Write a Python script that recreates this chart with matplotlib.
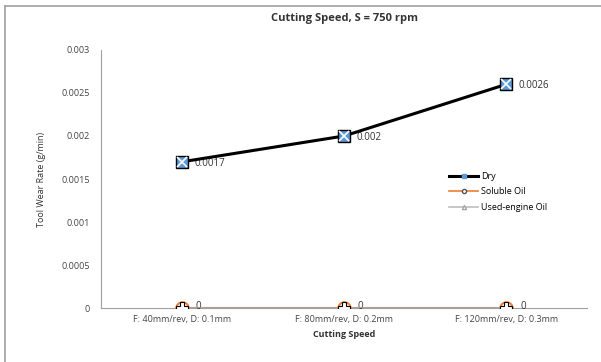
import numpy as np
import matplotlib.pyplot as plt
from matplotlib.lines import Line2D

cats = ['F: 40mm/rev, D: 0.1mm', 'F: 80mm/rev, D: 0.2mm', 'F: 120mm/rev, D: 0.3mm']
dry = [0.0017, 0.002, 0.0026]
soluble = [0, 0, 0]
used = [0, 0, 0]
yticks = [0, 0.0005, 0.001, 0.0015, 0.002, 0.0025, 0.003]
ylabels = ['0', '0.0005', '0.001', '0.0015', '0.002', '0.0025', '0.003']

plt.rcParams['font.family'] = ['Open Sans', 'DejaVu Sans']

fig = plt.figure(figsize=(6.01, 3.62), dpi=100)
ax = fig.add_axes([0.168, 0.149, 0.809, 0.713])
x = np.arange(len(cats))

ax.plot(x, soluble, color='#ED7D31', lw=1.5, marker='o', ms=9, mfc='white', mec='#ED7D31', mew=1.5, zorder=3, label='Soluble Oil')
ax.plot(x, used, color='#A5A5A5', lw=1.2, marker='^', ms=5, mfc='white', mec='#A5A5A5', zorder=4, label='Used-engine Oil')
ax.plot(x, used, ls='none', marker='P', ms=8, mfc='white', mec='black', mew=0.8, zorder=5)
ax.plot(x, dry, color='black', lw=2.2, marker='s', ms=9, mfc='#5B9BD5', mec='black', zorder=6, label='Dry')
ax.plot(x, dry, ls='none', marker='x', ms=7, mec='white', mew=1.2, zorder=7)

for xi, v in zip(x, dry):
    ax.annotate(f'{v:g}', (xi, v), xytext=(9, -1), textcoords='offset points', fontsize=7, va='center', color='#333333')
for xi, v in zip(x, soluble):
    ax.annotate('0', (xi, v), xytext=(10, 1), textcoords='offset points', fontsize=7, va='center', color='#333333')

ax.set_xlim(-0.5, 2.5)
ax.set_ylim(0, 0.003)
ax.set_yticks(yticks)
ax.set_yticklabels(ylabels)
ax.set_xticks(x)
ax.set_xticklabels(cats)
ax.tick_params(length=0, labelsize=6.5, colors='#444444', pad=8)
ax.tick_params(axis='x', pad=5)
for s in ['top', 'right']:
    ax.spines[s].set_visible(False)
ax.spines['left'].set_color('#A0A0A0')
ax.spines['bottom'].set_color('#A0A0A0')

ax.set_title('Cutting Speed, S = 750 rpm', fontsize=8, fontweight='bold', color='#333333', pad=21)
ax.set_xlabel('Cutting Speed', fontsize=6.5, fontweight='bold', color='#333333', labelpad=4)
ax.set_ylabel('Tool Wear Rate (g/min)', fontsize=6.5, color='#333333', labelpad=11)

handles = [Line2D([], [], color='black', lw=2.2, marker='s', ms=3, mfc='#5B9BD5', mec='#5B9BD5'),
           Line2D([], [], color='#ED7D31', lw=1.2, marker='o', ms=3, mfc='white', mec='#555555'),
           Line2D([], [], color='#BFBFBF', lw=1.2, marker='^', ms=3, mfc='white', mec='#A5A5A5')]
ax.legend(handles, ['Dry', 'Soluble Oil', 'Used-engine Oil'], loc='center left',
          bbox_to_anchor=(0.7, 0.45), frameon=False, fontsize=6.5, handlelength=3.2,
          labelspacing=0.7, handletextpad=0.3)

fig.add_artist(Line2D([0.009, 0.009], [0, 0.983], transform=fig.transFigure, color='#A0A0A0', lw=1.2))
fig.add_artist(Line2D([0.009, 1.0], [0.983, 0.983], transform=fig.transFigure, color='#A0A0A0', lw=1.2))

plt.savefig('out.png', dpi=100)
